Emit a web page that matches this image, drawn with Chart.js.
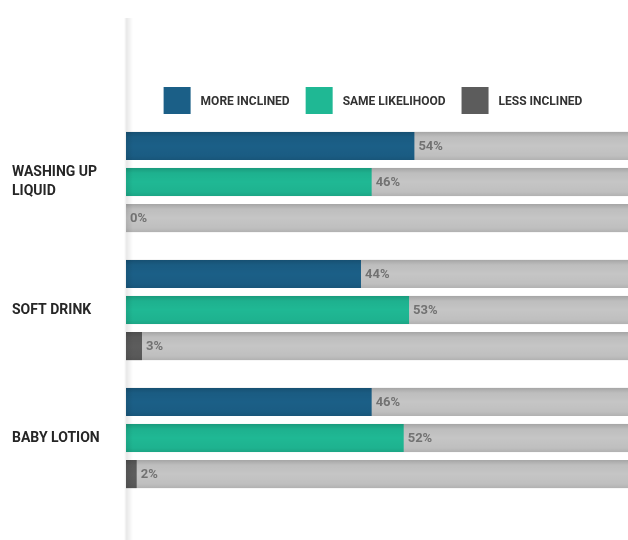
<!DOCTYPE html>
<html>
<head>
<meta charset="utf-8">
<script src="https://cdn.jsdelivr.net/npm/chart.js@4"></script>
<style>
  html, body { margin: 0; padding: 0; background: #fff; overflow: hidden; }
  #wrap { width: 628px; height: 540px; position: relative; }
</style>
</head>
<body>
<div id="wrap"><canvas id="c"></canvas></div>
<script>
// Survey results: inclination to buy, per product type (percent)
const categories = [['WASHING UP', 'LIQUID'], 'SOFT DRINK', 'BABY LOTION'];
const seriesNames = ['MORE INCLINED', 'SAME LIKELIHOOD', 'LESS INCLINED'];
const moreInclined = [54, 44, 46];
const sameLikelihood = [46, 53, 52];
const lessInclined = [0, 3, 2];
const scaleMax = 94;

const colors = ['#1b5f87', '#1fb894', '#5c5c5c'];
const FONT = 'Roboto';

// grey track behind each bar, shading, value labels and the axis shadow
const trackPlugin = {
  id: 'tracks',
  beforeDatasetsDraw(chart) {
    const { ctx, chartArea } = chart;
    ctx.save();
    chart.data.datasets.forEach((ds, i) => {
      chart.getDatasetMeta(i).data.forEach(el => {
        const { y, height } = el.getProps(['y', 'height'], true);
        ctx.fillStyle = '#c5c5c5';
        ctx.fillRect(chartArea.left, y - height / 2, chartArea.right - chartArea.left, height);
      });
    });
    ctx.restore();
  },
  afterDatasetsDraw(chart) {
    const { ctx, chartArea } = chart;
    ctx.save();
    chart.data.datasets.forEach((ds, i) => {
      const meta = chart.getDatasetMeta(i);
      meta.data.forEach((el, j) => {
        const { x, y, base, height } = el.getProps(['x', 'y', 'base', 'height'], true);
        const top = y - height / 2;
        const g = ctx.createLinearGradient(0, top, 0, top + height);
        g.addColorStop(0, 'rgba(0,0,0,0.16)');
        g.addColorStop(0.18, 'rgba(0,0,0,0.04)');
        g.addColorStop(0.5, 'rgba(0,0,0,0)');
        g.addColorStop(0.85, 'rgba(0,0,0,0.03)');
        g.addColorStop(1, 'rgba(0,0,0,0.10)');
        ctx.fillStyle = g;
        ctx.fillRect(chartArea.left, top, chartArea.right - chartArea.left, height);
        ctx.fillStyle = '#727272';
        ctx.font = 'bold 13px ' + FONT;
        ctx.textAlign = 'left';
        ctx.textBaseline = 'middle';
        ctx.fillText(ds.data[j] + '%', Math.max(x, base) + 4, y + 1);
      });
    });
    const x0 = chartArea.left;
    const sg = ctx.createLinearGradient(x0 - 2, 0, x0 + 7, 0);
    sg.addColorStop(0, 'rgba(0,0,0,0)');
    sg.addColorStop(0.3, 'rgba(0,0,0,0.09)');
    sg.addColorStop(1, 'rgba(0,0,0,0)');
    ctx.fillStyle = sg;
    ctx.fillRect(x0 - 2, 18, 9, chart.height - 18);
    ctx.restore();
  }
};

// legend row: square swatch, then the series name
const legendPlugin = {
  id: 'swatchLegend',
  afterDraw(chart) {
    const { ctx, chartArea } = chart;
    const box = 27, textGap = 10, itemGap = 16, boxTop = 87;
    ctx.save();
    ctx.font = 'bold 12px ' + FONT;
    const items = chart.data.datasets.map(ds => ({
      label: ds.label, color: ds.backgroundColor, w: box + textGap + ctx.measureText(ds.label).width
    }));
    const total = items.reduce((s, it) => s + it.w, 0) + itemGap * (items.length - 1);
    let x = (chartArea.left + chartArea.right) / 2 - 4 - total / 2;
    items.forEach(it => {
      ctx.fillStyle = it.color;
      ctx.fillRect(x, boxTop, box, box);
      ctx.fillStyle = '#333';
      ctx.textAlign = 'left';
      ctx.textBaseline = 'middle';
      ctx.fillText(it.label, x + box + textGap, boxTop + box / 2 + 1);
      x += it.w + itemGap;
    });
    ctx.restore();
  }
};

new Chart(document.getElementById('c'), {
  type: 'bar',
  data: {
    labels: categories,
    datasets: [moreInclined, sameLikelihood, lessInclined].map((d, i) => ({
      label: seriesNames[i],
      data: d,
      backgroundColor: colors[i],
      borderWidth: 0,
      barPercentage: 0.78,
      categoryPercentage: 0.845
    }))
  },
  options: {
    indexAxis: 'y',
    responsive: true,
    maintainAspectRatio: false,
    animation: false,
    layout: { padding: { top: 118, left: 12, right: 0, bottom: 38 } },
    scales: {
      x: { display: false, min: 0, max: scaleMax },
      y: {
        grid: { display: false },
        border: { display: false },
        ticks: {
          crossAlign: 'far',
          padding: 0,
          color: '#262626',
          font: { family: FONT, size: 14, weight: 'bold', lineHeight: 1.36 }
        },
        afterFit(scale) { scale.width = 114; }
      }
    },
    plugins: {
      legend: { display: false },
      tooltip: { enabled: false }
    }
  },
  plugins: [trackPlugin, legendPlugin]
});
</script>
</body>
</html>
